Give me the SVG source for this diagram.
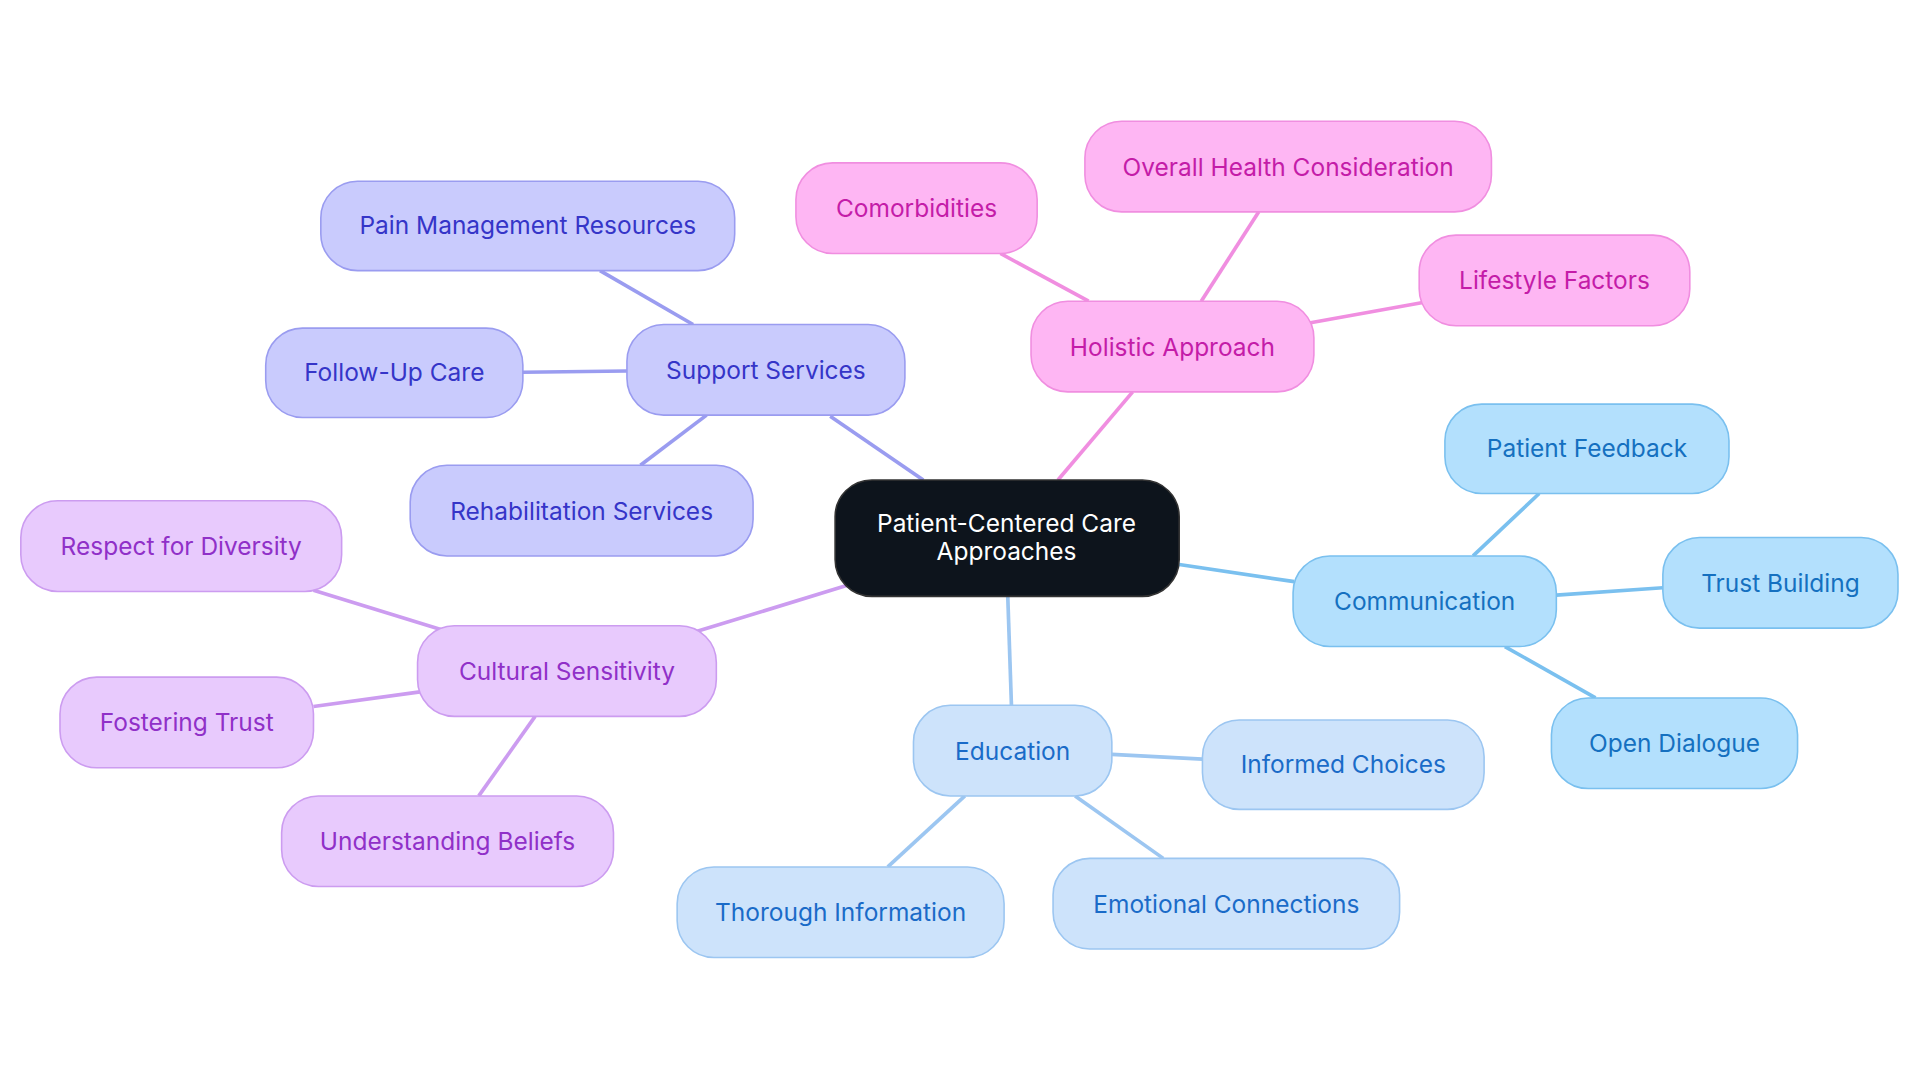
<svg xmlns="http://www.w3.org/2000/svg" width="1920" height="1083" viewBox="0 0 1920 1083">
<style>
text{font-family:Inter,"Open Sans","Liberation Sans",sans-serif;font-size:20px;text-anchor:middle;dominant-baseline:central}
rect{stroke-width:1.3}
line{stroke-width:3}
.s rect{fill:#c9cbfd;stroke:#9a9cf0}.s text{fill:#3535c8}
.h rect{fill:#feb6f3;stroke:#f08ee0}.h text{fill:#c41ca8}
.c rect{fill:#b3e0fd;stroke:#7ac0ef}.c text{fill:#1570c0}
.e rect{fill:#cde3fb;stroke:#9cc6f1}.e text{fill:#1a6bc8}
.u rect{fill:#e8cafd;stroke:#cc9cf0}.u text{fill:#9030c8}
</style>
<rect width="1920" height="1083" fill="#fff"/>
<g transform="scale(1.2245)">
<g id="connectors">
<g stroke="#9a9cf0"><line x1="754" y1="392" x2="678" y2="340"/><line x1="566" y1="265" x2="490" y2="221"/><line x1="512" y1="303" x2="427" y2="304"/><line x1="577" y1="339" x2="523" y2="380"/></g>
<g stroke="#f08ee0"><line x1="864" y1="392" x2="925" y2="320"/><line x1="889" y1="246" x2="817" y2="207"/><line x1="981" y1="246" x2="1028" y2="173"/><line x1="1068" y1="264" x2="1162" y2="247"/></g>
<g stroke="#7ac0ef"><line x1="963" y1="461" x2="1057" y2="475"/><line x1="1203" y1="454" x2="1257" y2="403"/><line x1="1271" y1="486" x2="1358" y2="480"/><line x1="1229" y1="528" x2="1303" y2="570"/></g>
<g stroke="#9cc6f1"><line x1="823" y1="487" x2="826" y2="576"/><line x1="908" y1="616" x2="982" y2="620"/><line x1="878" y1="650" x2="950" y2="701"/><line x1="788" y1="650" x2="725" y2="708"/></g>
<g stroke="#cc9cf0"><line x1="692" y1="478" x2="568" y2="516"/><line x1="360" y1="514" x2="256" y2="482"/><line x1="343" y1="565" x2="256" y2="577"/><line x1="437" y1="585" x2="391" y2="650"/></g>
</g>
<g id="root"><rect x="682" y="392" width="281" height="95" rx="30" fill="#0d141c" stroke="#333"/><text x="822" y="427" fill="#fff">Patient-Centered Care</text><text x="822" y="450" fill="#fff">Approaches</text></g>
<g id="support" class="s"><rect x="512" y="265" width="227" height="74" rx="30"/><text x="625.5" y="302">Support Services</text></g>
<g id="pain" class="s"><rect x="262" y="148" width="338" height="73" rx="30"/><text x="431" y="184">Pain Management Resources</text></g>
<g id="followup" class="s"><rect x="217" y="268" width="210" height="73" rx="30"/><text x="322" y="304">Follow-Up Care</text></g>
<g id="rehab" class="s"><rect x="335" y="380" width="280" height="74" rx="30"/><text x="475" y="417">Rehabilitation Services</text></g>
<g id="holistic" class="h"><rect x="842" y="246" width="231" height="74" rx="30"/><text x="957.5" y="283">Holistic Approach</text></g>
<g id="comorb" class="h"><rect x="650" y="133" width="197" height="74" rx="30"/><text x="748.5" y="170">Comorbidities</text></g>
<g id="overall" class="h"><rect x="886" y="99" width="332" height="74" rx="30"/><text x="1052" y="136">Overall Health Consideration</text></g>
<g id="lifestyle" class="h"><rect x="1159" y="192" width="221" height="74" rx="30"/><text x="1269.5" y="229">Lifestyle Factors</text></g>
<g id="comm" class="c"><rect x="1056" y="454" width="215" height="74" rx="30"/><text x="1163.5" y="491">Communication</text></g>
<g id="feedback" class="c"><rect x="1180" y="330" width="232" height="73" rx="30"/><text x="1296" y="366">Patient Feedback</text></g>
<g id="trust" class="c"><rect x="1358" y="439" width="192" height="74" rx="30"/><text x="1454" y="476">Trust Building</text></g>
<g id="dialogue" class="c"><rect x="1267" y="570" width="201" height="74" rx="30"/><text x="1367.5" y="607">Open Dialogue</text></g>
<g id="edu" class="e"><rect x="746" y="576" width="162" height="74" rx="30"/><text x="827" y="613">Education</text></g>
<g id="informed" class="e"><rect x="982" y="588" width="230" height="73" rx="30"/><text x="1097" y="624">Informed Choices</text></g>
<g id="emotional" class="e"><rect x="860" y="701" width="283" height="74" rx="30"/><text x="1001.5" y="738">Emotional Connections</text></g>
<g id="thorough" class="e"><rect x="553" y="708" width="267" height="74" rx="30"/><text x="686.5" y="745">Thorough Information</text></g>
<g id="cultural" class="u"><rect x="341" y="511" width="244" height="74" rx="30"/><text x="463" y="548">Cultural Sensitivity</text></g>
<g id="respect" class="u"><rect x="17" y="409" width="262" height="74" rx="30"/><text x="148" y="446">Respect for Diversity</text></g>
<g id="fostering" class="u"><rect x="49" y="553" width="207" height="74" rx="30"/><text x="152.5" y="590">Fostering Trust</text></g>
<g id="beliefs" class="u"><rect x="230" y="650" width="271" height="74" rx="30"/><text x="365.5" y="687">Understanding Beliefs</text></g>
</g>
</svg>
